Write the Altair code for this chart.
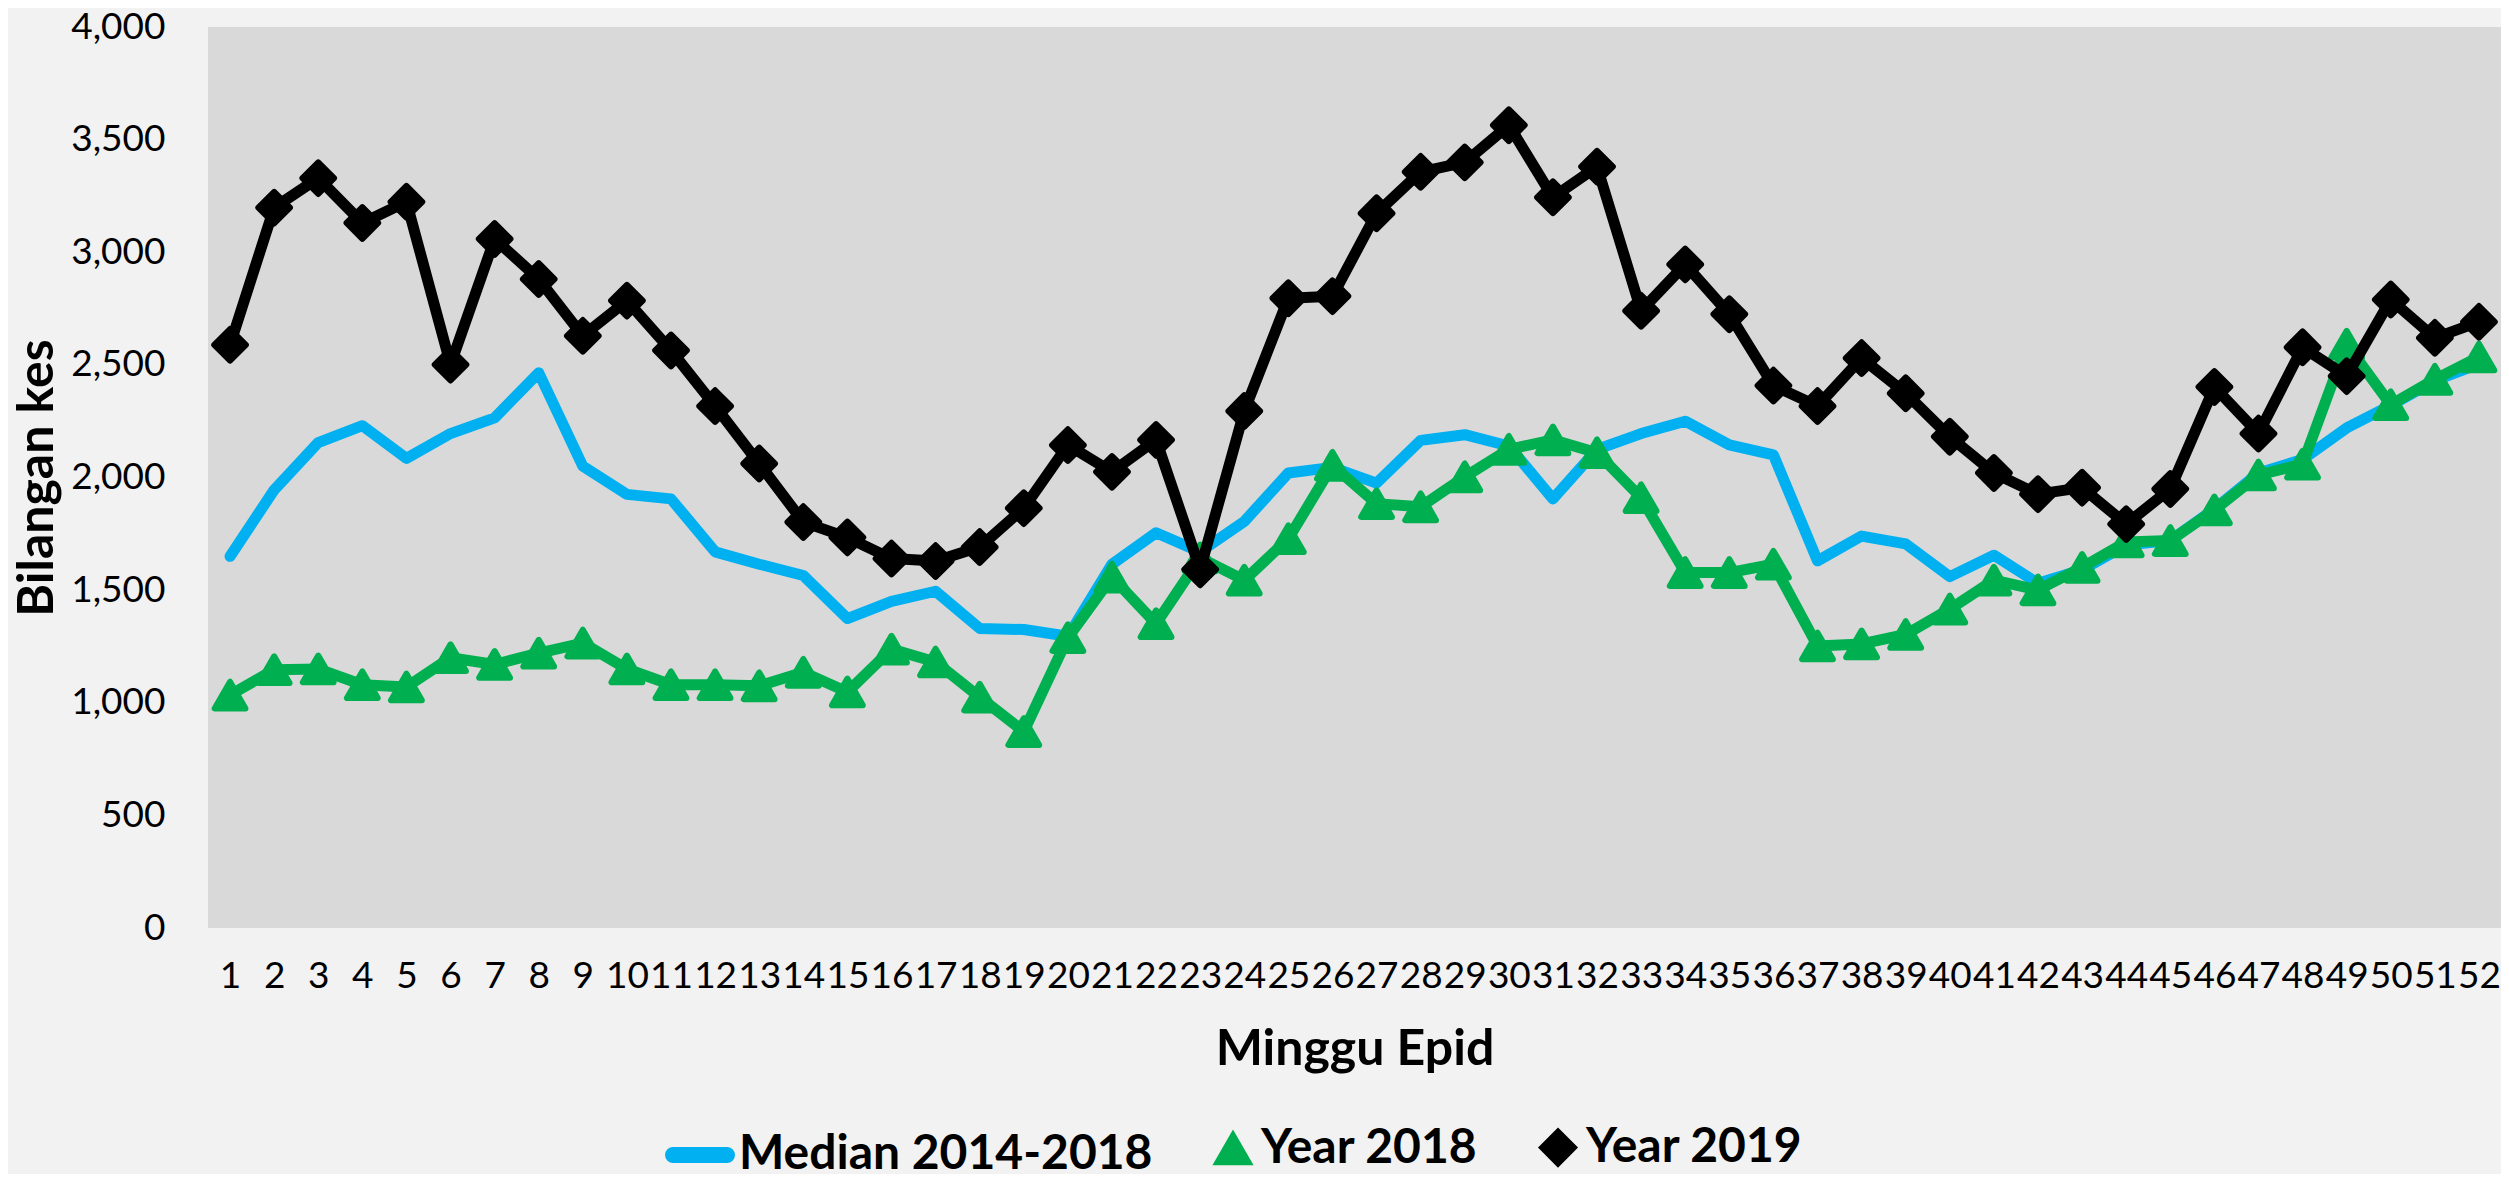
import altair as alt
import pandas as pd

weeks = list(range(1, 53))

median_2014_2018 = [1650, 1945, 2155, 2230, 2085, 2195, 2265, 2465, 2050, 1925,
                    1905, 1670, 1615, 1565, 1374, 1450, 1495, 1330, 1325, 1295,
                    1615, 1755, 1670, 1805, 2020, 2045, 1975, 2165, 2190, 2140,
                    1905, 2125, 2195, 2250, 2145, 2100, 1630, 1740, 1705, 1560,
                    1655, 1530, 1590, 1700, 1720, 1860, 2020, 2080, 2220, 2320,
                    2430, 2505]

year_2018 = [1034, 1147, 1150, 1080, 1070, 1200, 1170, 1220, 1265, 1150,
             1080, 1080, 1075, 1135, 1048, 1238, 1181, 1025, 872, 1289,
             1558, 1351, 1643, 1544, 1728, 2054, 1884, 1870, 2003, 2125,
             2167, 2110, 1910, 1578, 1578, 1615, 1252, 1261, 1303, 1416,
             1544, 1501, 1601, 1714, 1720, 1856, 2011, 2059, 2592, 2323,
             2436, 2535]

year_2019 = [2589, 3198, 3329, 3130, 3224, 2501, 3059, 2881, 2629, 2785,
             2564, 2317, 2062, 1802, 1734, 1640, 1629, 1691, 1864, 2144,
             2025, 2167, 1592, 2295, 2796, 2805, 3173, 3357, 3399, 3564,
             3244, 3380, 2740, 2946, 2725, 2408, 2317, 2530, 2374, 2181,
             2020, 1926, 1955, 1793, 1949, 2402, 2195, 2578, 2450, 2790,
             2620, 2691]

series_names = ["Median 2014-2018", "Year 2018", "Year 2019"]
series_colors = ["#00B0F0", "#00B050", "#000000"]
# the median series has no markers; its legend key is a short thick rounded bar
series_shapes = [
    "M-0.84,-0.16L0.84,-0.16A0.16,0.16 0 0 1 0.84,0.16L-0.84,0.16A0.16,0.16 0 0 1 -0.84,-0.16Z",
    "triangle-up",
    "diamond",
]
marker_sizes = [4096, 950, 1000]
y_ticks = list(range(0, 4001, 500))

frames = []
for name, vals in zip(series_names, [median_2014_2018, year_2018, year_2019]):
    frames.append(pd.DataFrame({"week": weeks, "value": vals, "series": name}))
df = pd.concat(frames, ignore_index=True)

FONT = "Lato"

x_enc = alt.X(
    "week:O",
    title="Minggu Epid",
    scale=alt.Scale(type="point", padding=0.5),
    axis=alt.Axis(labelAngle=0, domain=False, ticks=False, labelPadding=30,
                  titlePadding=30),
)
y_enc = alt.Y(
    "value:Q",
    title="Bilangan kes",
    scale=alt.Scale(domain=[0, 4000], nice=False),
    axis=alt.Axis(values=y_ticks, format=",d", grid=False, domain=False,
                  ticks=False, labelPadding=43, titlePadding=8),
)

legend = alt.Legend(
    title=None, orient="none", direction="horizontal",
    legendX=457, legendY=1093, padding=0,
    labelFont=FONT, labelFontSize=48, labelFontWeight="bold", labelColor="#000000",
    labelLimit=1000, labelOffset=4, columnPadding=52, symbolStrokeWidth=6,
)

color_enc = alt.Color("series:N", scale=alt.Scale(domain=series_names, range=series_colors), legend=legend)
stroke_enc = alt.Stroke("series:N", scale=alt.Scale(domain=series_names, range=series_colors), legend=legend)
shape_enc = alt.Shape("series:N", scale=alt.Scale(domain=series_names, range=series_shapes), legend=legend)
size_enc = alt.Size("series:N", scale=alt.Scale(type="ordinal", domain=series_names, range=marker_sizes), legend=legend)

base = alt.Chart(df)


def line_layer(name, color):
    return base.transform_filter(alt.datum.series == name).mark_line(
        color=color, strokeWidth=11, strokeCap="round", strokeJoin="round"
    ).encode(x=x_enc, y=y_enc)


def point_layer(name):
    return base.transform_filter(alt.datum.series == name).mark_point(
        filled=True, opacity=1, strokeWidth=6, strokeJoin="round"
    ).encode(x=x_enc, y=y_enc, color=color_enc, stroke=stroke_enc,
             shape=shape_enc, size=size_enc)


chart = alt.layer(
    line_layer(series_names[0], series_colors[0]),
    line_layer(series_names[1], series_colors[1]),
    point_layer(series_names[1]),
    line_layer(series_names[2], series_colors[2]),
    point_layer(series_names[2]),
).properties(
    width=2293, height=901,
    autosize=alt.AutoSizeParams(type="none"),
    padding={"left": 200, "top": 19, "right": 0, "bottom": 246},
    background="#F2F2F2",
).configure_view(
    fill="#D9D9D9", stroke=None,
).configure_axis(
    labelFont=FONT, labelFontSize=37, labelColor="#000000",
    titleFont=FONT, titleFontSize=50, titleFontWeight="bold", titleColor="#000000",
)

chart.save("out.html", embed_options={"renderer": "svg", "actions": False})
